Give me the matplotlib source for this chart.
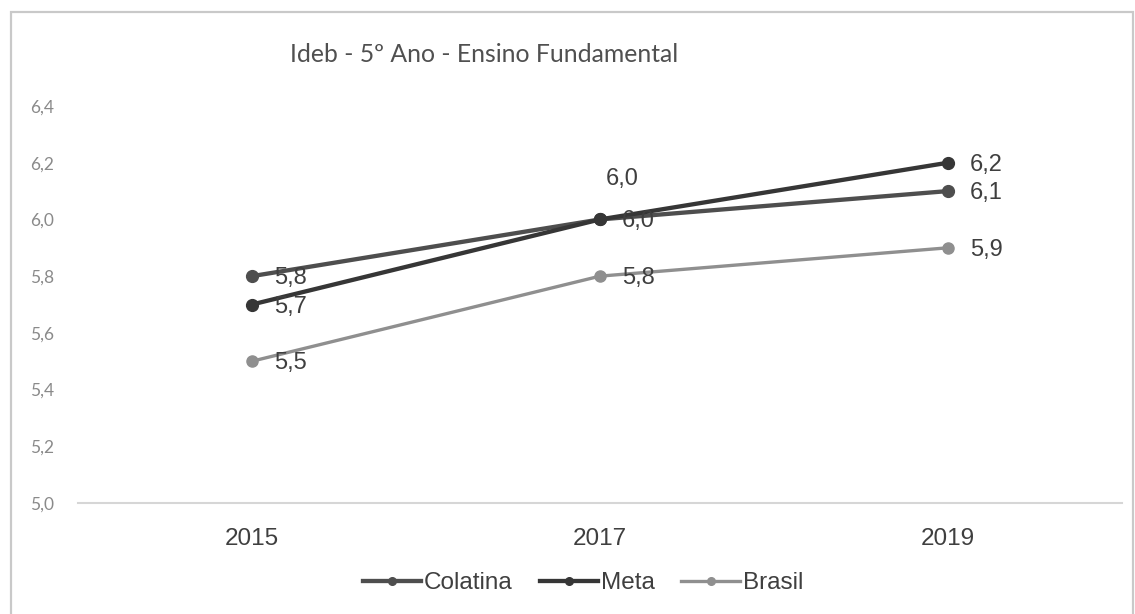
import matplotlib.pyplot as plt
from matplotlib.lines import Line2D
from matplotlib.patches import Rectangle

# Ideb, anos iniciais (5º ano)
anos = ["2015", "2017", "2019"]
colatina = [5.8, 6.0, 6.1]
meta = [5.7, 6.0, 6.2]
brasil = [5.5, 5.8, 5.9]

y_ticks = [5.0, 5.2, 5.4, 5.6, 5.8, 6.0, 6.2, 6.4]

COR_COLATINA = "#4e4e4e"
COR_META = "#363636"
COR_BRASIL = "#8f8f8f"
COR_TEXTO = "#3f3f3f"

W, H = 1135, 614
fig = plt.figure(figsize=(W / 100, H / 100), dpi=100)
fig.patch.set_facecolor("white")

# moldura do gráfico
fig.patches.append(Rectangle((11 / W, -0.05), (1133 - 11) / W, 1.05 - 12 / H,
                             transform=fig.transFigure, fill=False,
                             edgecolor="#c9c9c9", lw=1.6))

ax = fig.add_axes([78 / W, (H - 503) / H, (1122 - 78) / W, (503 - 106) / H])
x = list(range(len(anos)))

ax.plot(x, colatina, color=COR_COLATINA, lw=3.1, marker="o", ms=8.5, zorder=3)
ax.plot(x, meta, color=COR_META, lw=3.1, marker="o", ms=8.5, zorder=3)
ax.plot(x, brasil, color=COR_BRASIL, lw=2.4, marker="o", ms=8, zorder=3)

ax.set_xlim(-0.5, len(anos) - 0.5)
ax.set_ylim(5.0, 6.4)
ax.set_xticks(x)
ax.set_xticklabels(anos, fontsize=17.5, color=COR_TEXTO, family="Liberation Sans")
ax.set_yticks(y_ticks)
ax.set_yticklabels([f"{v:.1f}".replace(".", ",") for v in y_ticks],
                   fontsize=12.5, color="#8a8a8a", family="Lato")
ax.tick_params(axis="x", length=0, pad=18)
ax.tick_params(axis="y", length=0, pad=17)
for s in ["top", "right", "left"]:
    ax.spines[s].set_visible(False)
ax.spines["bottom"].set_color("#d6d6d6")
ax.spines["bottom"].set_linewidth(1.5)


def rotulo(i, v, dx=22, dy=-2, ha="left"):
    ax.annotate(f"{v:.1f}".replace(".", ","), (i, v), xytext=(dx * 0.72, dy * 0.72),
                textcoords="offset points", ha=ha, va="center",
                fontsize=17, color=COR_TEXTO, family="Liberation Sans", zorder=4)


for i, v in enumerate(colatina):
    rotulo(i, v)
for i, v in enumerate(meta):
    if i == 1:
        rotulo(i, v, dx=22, dy=40, ha="center")
    else:
        rotulo(i, v)
for i, v in enumerate(brasil):
    rotulo(i, v)

fig.text(484 / W, 1 - 55 / H, "Ideb - 5º Ano - Ensino Fundamental",
         ha="center", va="center", fontsize=17.8, color="#505050", family="Lato")

handles = [
    Line2D([], [], color=COR_COLATINA, lw=3.1, marker="o", ms=5.5),
    Line2D([], [], color=COR_META, lw=3.1, marker="o", ms=5.5),
    Line2D([], [], color=COR_BRASIL, lw=2.4, marker="o", ms=5.5),
]
fig.legend(handles, ["Colatina", "Meta", "Brasil"], loc="center",
           bbox_to_anchor=(583 / W, 1 - 583 / H), ncol=3, frameon=False,
           prop={"family": "Liberation Sans", "size": 17.5}, labelcolor=COR_TEXTO,
           handlelength=2.4, handletextpad=0.12, columnspacing=1.1)

fig.savefig("out.png", dpi=100)
